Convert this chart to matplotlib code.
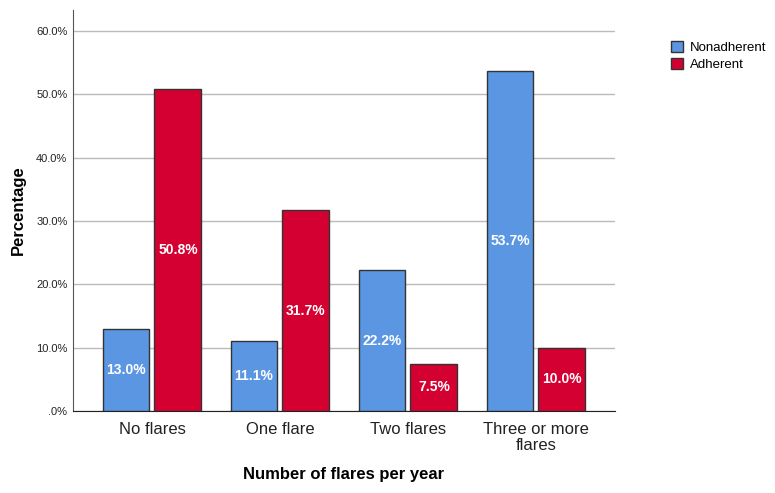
import matplotlib
matplotlib.use("Agg")
import matplotlib.pyplot as plt
import numpy as np

categories = ["No flares", "One flare", "Two flares", "Three or more\nflares"]
nonadherent = [13.0, 11.1, 22.2, 53.7]
adherent = [50.8, 31.7, 7.5, 10.0]
yticks = [0, 10, 20, 30, 40, 50, 60]
ytick_labels = [".0%", "10.0%", "20.0%", "30.0%", "40.0%", "50.0%", "60.0%"]

plt.rcParams['font.family'] = ['Liberation Sans', 'DejaVu Sans']

fig = plt.figure(figsize=(7.75, 4.93), dpi=100)
ax = fig.add_axes([0.0942, 0.1663, 0.6993, 0.8134])

x = np.arange(len(categories))
w = 0.367
off = 0.203
blue = "#5B96E3"
red = "#D50032"
edge = "#333333"

b1 = ax.bar(x - off, nonadherent, w, color=blue, edgecolor=edge, linewidth=1, label="Nonadherent", zorder=3)
b2 = ax.bar(x + off, adherent, w, color=red, edgecolor=edge, linewidth=1, label="Adherent", zorder=3)

for xs, vals in ((x - off, nonadherent), (x + off, adherent)):
    for xi, v in zip(xs, vals):
        ax.text(xi, v / 2, f"{v:.1f}%", ha="center", va="center", color="white",
                fontsize=10, fontweight="bold", zorder=4)

ax.set_xlim(-0.617, 3.617)
ax.set_ylim(0, 63.3)
ax.set_yticks(yticks)
ax.set_yticklabels(ytick_labels, fontsize=8)
ax.set_xticks(x)
ax.set_xticklabels(categories, fontsize=12, linespacing=1.05)
ax.tick_params(axis="both", length=0, colors="#222222")
ax.tick_params(axis="x", pad=8)
ax.tick_params(axis="y", pad=4)
ax.yaxis.grid(True, color="#BBBBBB", linewidth=1, zorder=0)
ax.set_axisbelow(True)
for s in ("top", "right"):
    ax.spines[s].set_visible(False)
ax.spines["left"].set_color("#555555")
ax.spines["bottom"].set_color("#222222")

ax.set_ylabel("Percentage", fontsize=12, fontweight="bold", labelpad=7)
ax.set_xlabel("Number of flares per year", fontsize=12, fontweight="bold", labelpad=10)

leg = fig.legend(handles=[b1, b2], loc="upper left", bbox_to_anchor=(0.859, 0.928),
                 frameon=False, fontsize=9.5, handlelength=0.9, handleheight=0.9,
                 handletextpad=0.5, labelspacing=0.35, borderaxespad=0)

fig.savefig("out.png", dpi=100)
